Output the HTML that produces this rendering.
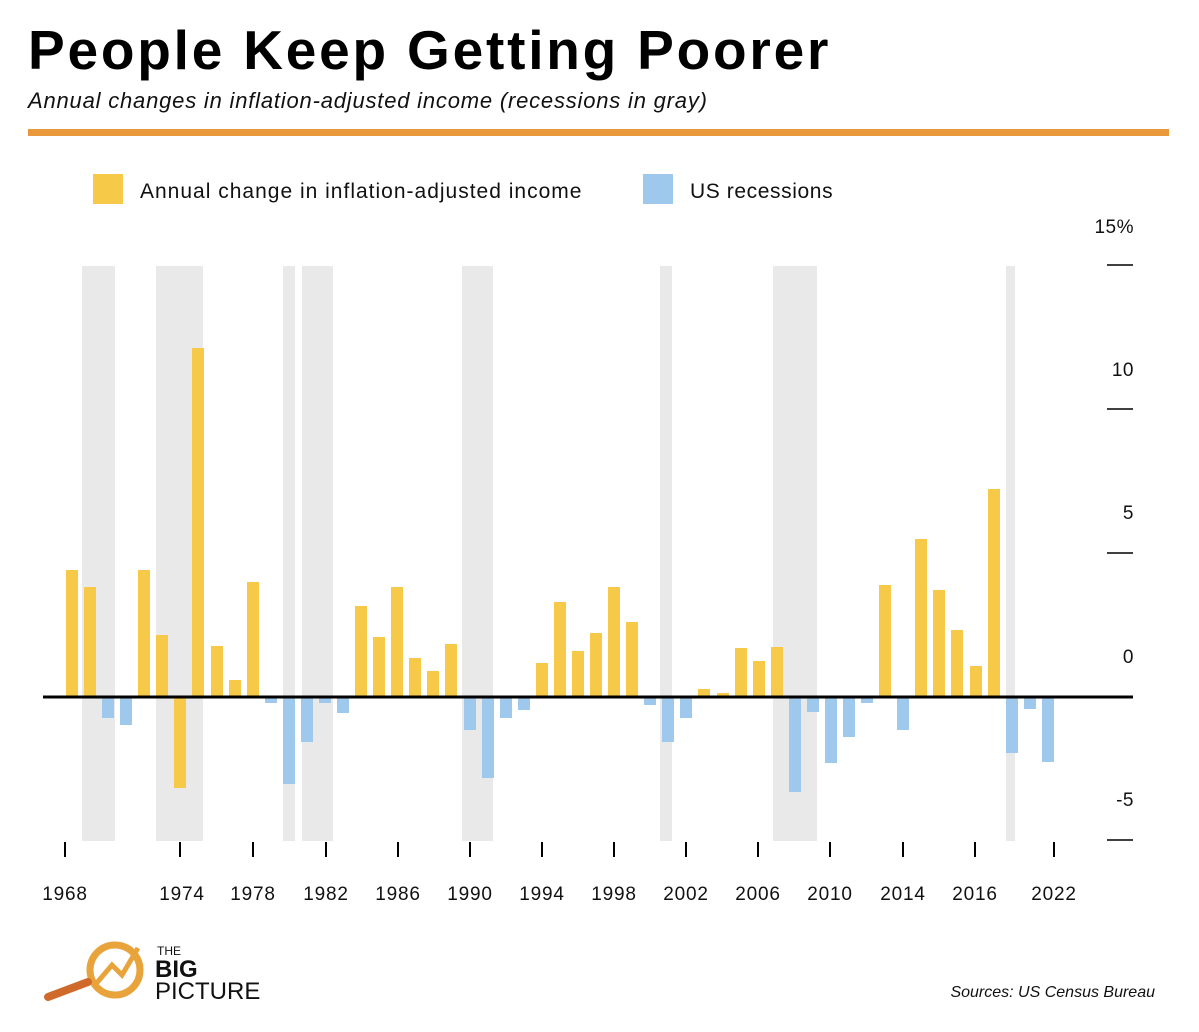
<!DOCTYPE html>
<html><head><meta charset="utf-8"><style>
body{margin:0;background:#fff;}
svg{display:block;font-family:"Liberation Sans",sans-serif;}
</style></head><body>
<svg width="1199" height="1032" viewBox="0 0 1199 1032" xmlns="http://www.w3.org/2000/svg">
<rect width="1199" height="1032" fill="#fff"/>
<text x="28" y="69" font-size="55" font-weight="bold" fill="#000" letter-spacing="2.8">People Keep Getting Poorer</text>
<text x="28" y="108" font-size="22" font-style="italic" fill="#111" letter-spacing="0.8">Annual changes in inflation-adjusted income (recessions in gray)</text>
<rect x="28" y="129" width="1141" height="7" fill="#e9993b"/>
<rect x="93" y="174" width="30" height="30" fill="#f7c948"/>
<text x="140" y="198" font-size="21" fill="#111" letter-spacing="1">Annual change in inflation-adjusted income</text>
<rect x="643" y="174" width="30" height="30" fill="#9fc9ec"/>
<text x="690" y="198" font-size="21" fill="#111" letter-spacing="0.6">US recessions</text>
<g fill="#e8e9e8">
<rect x="82" y="266" width="33" height="575"/><rect x="156" y="266" width="47" height="575"/>
<rect x="283" y="266" width="12" height="575"/><rect x="302" y="266" width="31" height="575"/>
<rect x="462" y="266" width="31" height="575"/><rect x="660" y="266" width="12" height="575"/>
<rect x="773" y="266" width="44" height="575"/><rect x="1006" y="266" width="9" height="575"/>
</g>
<g fill="#f7c948">
<rect x="66" y="570" width="12" height="127"/>
<rect x="84" y="587" width="12" height="110"/>
<rect x="138" y="570" width="12" height="127"/>
<rect x="156" y="635" width="12" height="62"/>
<rect x="174" y="697" width="12" height="91"/>
<rect x="192" y="348" width="12" height="349"/>
<rect x="211" y="646" width="12" height="51"/>
<rect x="229" y="680" width="12" height="17"/>
<rect x="247" y="582" width="12" height="115"/>
<rect x="355" y="606" width="12" height="91"/>
<rect x="373" y="637" width="12" height="60"/>
<rect x="391" y="587" width="12" height="110"/>
<rect x="409" y="658" width="12" height="39"/>
<rect x="427" y="671" width="12" height="26"/>
<rect x="445" y="644" width="12" height="53"/>
<rect x="536" y="663" width="12" height="34"/>
<rect x="554" y="602" width="12" height="95"/>
<rect x="572" y="651" width="12" height="46"/>
<rect x="590" y="633" width="12" height="64"/>
<rect x="608" y="587" width="12" height="110"/>
<rect x="626" y="622" width="12" height="75"/>
<rect x="698" y="689" width="12" height="8"/>
<rect x="717" y="693" width="12" height="4"/>
<rect x="735" y="648" width="12" height="49"/>
<rect x="753" y="661" width="12" height="36"/>
<rect x="771" y="647" width="12" height="50"/>
<rect x="879" y="585" width="12" height="112"/>
<rect x="915" y="539" width="12" height="158"/>
<rect x="933" y="590" width="12" height="107"/>
<rect x="951" y="630" width="12" height="67"/>
<rect x="970" y="666" width="12" height="31"/>
<rect x="988" y="489" width="12" height="208"/>
</g>
<g fill="#9fc9ec">
<rect x="102" y="697" width="12" height="21"/>
<rect x="120" y="697" width="12" height="28"/>
<rect x="265" y="697" width="12" height="6"/>
<rect x="283" y="697" width="12" height="87"/>
<rect x="301" y="697" width="12" height="45"/>
<rect x="319" y="697" width="12" height="6"/>
<rect x="337" y="697" width="12" height="16"/>
<rect x="464" y="697" width="12" height="33"/>
<rect x="482" y="697" width="12" height="81"/>
<rect x="500" y="697" width="12" height="21"/>
<rect x="518" y="697" width="12" height="13"/>
<rect x="644" y="697" width="12" height="8"/>
<rect x="662" y="697" width="12" height="45"/>
<rect x="680" y="697" width="12" height="21"/>
<rect x="789" y="697" width="12" height="95"/>
<rect x="807" y="697" width="12" height="15"/>
<rect x="825" y="697" width="12" height="66"/>
<rect x="843" y="697" width="12" height="40"/>
<rect x="861" y="697" width="12" height="6"/>
<rect x="897" y="697" width="12" height="33"/>
<rect x="1006" y="697" width="12" height="56"/>
<rect x="1024" y="697" width="12" height="12"/>
<rect x="1042" y="697" width="12" height="65"/>
</g>
<line x1="43" y1="697" x2="1133" y2="697" stroke="#000" stroke-width="3"/>
<g stroke="#000" stroke-width="1.5">
<line x1="1107" y1="265" x2="1133" y2="265"/><line x1="1107" y1="409" x2="1133" y2="409"/>
<line x1="1107" y1="553" x2="1133" y2="553"/><line x1="1107" y1="840" x2="1133" y2="840"/>
</g>
<g font-size="19" fill="#111" text-anchor="end" letter-spacing="0.5">
<text x="1134" y="233">15%</text><text x="1134" y="376">10</text><text x="1134" y="519">5</text>
<text x="1134" y="663">0</text><text x="1134" y="806">-5</text>
</g>
<g stroke="#000" stroke-width="2">
<line x1="65" y1="842" x2="65" y2="857"/><line x1="180" y1="842" x2="180" y2="857"/><line x1="253" y1="842" x2="253" y2="857"/>
<line x1="326" y1="842" x2="326" y2="857"/><line x1="398" y1="842" x2="398" y2="857"/><line x1="470" y1="842" x2="470" y2="857"/>
<line x1="542" y1="842" x2="542" y2="857"/><line x1="614" y1="842" x2="614" y2="857"/><line x1="686" y1="842" x2="686" y2="857"/>
<line x1="758" y1="842" x2="758" y2="857"/><line x1="830" y1="842" x2="830" y2="857"/><line x1="903" y1="842" x2="903" y2="857"/>
<line x1="975" y1="842" x2="975" y2="857"/><line x1="1054" y1="842" x2="1054" y2="857"/>
</g>
<g font-size="19" fill="#111" text-anchor="middle" letter-spacing="0.8">
<text x="65" y="900">1968</text><text x="182" y="900">1974</text><text x="253" y="900">1978</text><text x="326" y="900">1982</text>
<text x="398" y="900">1986</text><text x="470" y="900">1990</text><text x="542" y="900">1994</text><text x="614" y="900">1998</text>
<text x="686" y="900">2002</text><text x="758" y="900">2006</text><text x="830" y="900">2010</text><text x="903" y="900">2014</text>
<text x="975" y="900">2016</text><text x="1054" y="900">2022</text>
</g>
<circle cx="115" cy="970" r="25" fill="none" stroke="#e9a33b" stroke-width="7"/>
<path d="M95 985 L112 965 L122 975 L138 948" fill="none" stroke="#e9a33b" stroke-width="5"/>
<line x1="48" y1="997" x2="88" y2="982" stroke="#d06a2a" stroke-width="8" stroke-linecap="round"/>
<text x="157" y="955" font-size="12" fill="#111">THE</text>
<text x="155" y="977" font-size="24" font-weight="bold" fill="#111">BIG</text>
<text x="155" y="999" font-size="24" fill="#111">PICTURE</text>
<text x="1155" y="997" font-size="16" font-style="italic" fill="#111" text-anchor="end">Sources: US Census Bureau</text>
</svg>
</body></html>
